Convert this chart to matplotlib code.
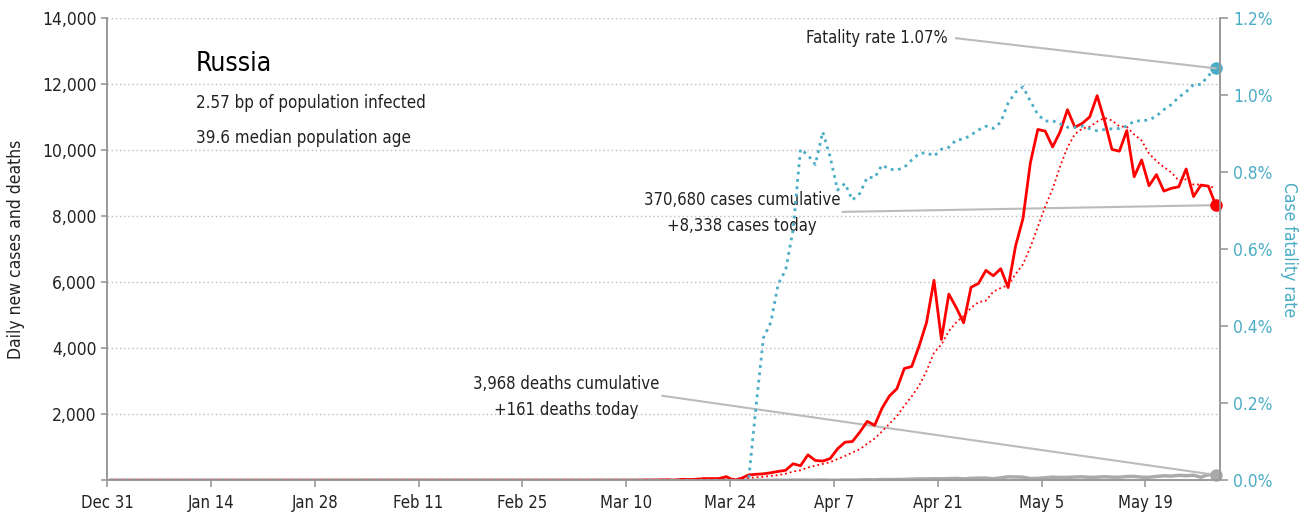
import numpy as np
import pandas as pd
import matplotlib
matplotlib.use('Agg')
import matplotlib.pyplot as plt
from matplotlib.ticker import FuncFormatter

plt.rcParams['font.family'] = ['DejaVu Sans']
plt.rcParams['font.stretch'] = 'condensed'

# --- data (ECDC style daily series, Dec 31 2019 .. May 28 2020 = 150 days) ---
n_days = 150

# daily new cases from Mar 1 (day 61) to May 28 (day 149)
cases_mar_may = [
    0, 0, 1, 0, 0, 0, 1, 2, 0, 3, 3, 7, 6, 11, 14, 4, 30, 21, 33, 52, 54, 53,
    110, 0, 57, 163, 182, 196, 228, 270, 302,                      # Mar
    501, 440, 771, 601, 582, 658, 954, 1154, 1175, 1459, 1786, 1667, 2186,
    2558, 2774, 3388, 3448, 4070, 4785, 6060, 4268, 5642, 5236, 4774, 5849,
    5966, 6361, 6198, 6411, 5841,                                  # Apr
    7099, 7933, 9623, 10633, 10581, 10102, 10559, 11231, 10699, 10817, 11012,
    11656, 10899, 10028, 9974, 10598, 9200, 9709, 8926, 9263, 8764, 8849,
    8894, 9434, 8599, 8946, 8915, 8338,                            # May
]

# daily deaths from Mar 26 (day 86) to May 28
deaths_late = [
    0, 1, 1, 0, 5, 0, 8, 7, 6, 4, 9, 2, 2, 11, 5, 13, 18, 12, 24, 18, 22, 28,
    34, 41, 40, 48, 44, 51, 57, 42, 60, 66, 66, 47, 73, 105, 101, 96, 53, 58,
    76, 95, 86, 88, 98, 104, 88, 94, 107, 96, 93, 113, 119, 94, 91, 115, 135,
    127, 150, 139, 153, 92, 174, 161,
]

# case fatality rate in %, from Mar 26 (day 86) to May 28
cfr_late = [
    0.0, 0.19, 0.37, 0.41, 0.51, 0.546, 0.65, 0.86, 0.845, 0.82, 0.905, 0.84,
    0.754, 0.771, 0.728, 0.745, 0.787, 0.786, 0.819, 0.808, 0.806, 0.813,
    0.832, 0.849, 0.851, 0.842, 0.86, 0.865, 0.884, 0.886, 0.897, 0.91, 0.92,
    0.914, 0.93, 0.98, 1.008, 1.022, 0.985, 0.95, 0.933, 0.934, 0.926, 0.917,
    0.917, 0.92, 0.913, 0.908, 0.911, 0.913, 0.914, 0.92, 0.933, 0.934, 0.936,
    0.946, 0.963, 0.976, 0.995, 1.009, 1.028, 1.028, 1.051, 1.07,
]

tick_days = [0, 14, 28, 42, 56, 70, 84, 98, 112, 126, 140]
tick_labels = ['Dec 31', 'Jan 14', 'Jan 28', 'Feb 11', 'Feb 25', 'Mar 10',
               'Mar 24', 'Apr 7', 'Apr 21', 'May 5', 'May 19']

cases = np.zeros(n_days)
cases[31] = 2
cases[61:] = cases_mar_may
deaths = np.zeros(n_days)
deaths[86:] = deaths_late
cfr = np.zeros(n_days)
cfr[86:] = cfr_late
cases_avg = pd.Series(cases).rolling(7, min_periods=1).mean().values

x = np.arange(n_days) + 0.5

RED = '#ff0000'
BLUE = '#4bacc6'
GREY = '#aaaaaa'
AXIS = '#999999'
TEXT = '#222222'

fig = plt.figure(figsize=(13.12, 5.22), dpi=100)
ax = fig.add_axes([0.0816, 0.0799, 0.8479, 0.885])
ax2 = ax.twinx()

ax.plot(x, deaths, color=GREY, lw=2.5, zorder=3)
ax.plot(x, cases_avg, color=RED, lw=1.3, linestyle=':', zorder=4)
ax.plot(x, cases, color=RED, lw=2, zorder=5)
ax2.plot(x, cfr, color=BLUE, lw=2, linestyle=':')

ax.plot(x[-1], cases[-1], 'o', color=RED, ms=8, clip_on=False, zorder=6)
ax.plot(x[-1], deaths[-1], 'o', color=GREY, ms=8, clip_on=False, zorder=6)
ax2.plot(x[-1], cfr[-1], 'o', color=BLUE, ms=8, clip_on=False)

ax.set_xlim(0, n_days)
ax.set_ylim(0, 14000)
ax2.set_ylim(0, 1.2)

ax.set_xticks(tick_days)
ax.set_xticklabels(tick_labels)
ax.set_yticks(np.arange(0, 14001, 2000))
ax.yaxis.set_major_formatter(FuncFormatter(lambda v, p: '' if v == 0 else f'{v:,.0f}'))
ax2.set_yticks(np.arange(0, 1.21, 0.2))
ax2.yaxis.set_major_formatter(FuncFormatter(lambda v, p: f'{v:.1f}%'))

ax.yaxis.grid(True, linestyle=(0, (1, 2)), color='#bbbbbb', lw=1)
ax.set_axisbelow(True)

for a in (ax, ax2):
    a.spines['top'].set_visible(False)
    for s in ('left', 'right', 'bottom'):
        a.spines[s].set_color(AXIS)
        a.spines[s].set_linewidth(1.2)

ax.tick_params(axis='x', length=5, width=1.2, color=AXIS, labelsize=12,
               labelcolor=TEXT, pad=5)
ax.tick_params(axis='y', length=4, width=1.2, color=AXIS, labelsize=12.5,
               labelcolor=TEXT)
ax2.tick_params(axis='y', length=6, width=1.2, color=AXIS, labelsize=12.5,
                labelcolor=BLUE, pad=4)

ax.set_ylabel('Daily new cases and deaths', fontsize=12.5, color=TEXT, labelpad=12)
ax2.set_ylabel('Case fatality rate', fontsize=12.5, color=BLUE, rotation=270,
               labelpad=18)

# country block
ax.text(0.080, 0.901, 'Russia', transform=ax.transAxes, fontsize=19,
        color='black', va='center', ha='left')
ax.text(0.080, 0.817, '2.57 bp of population infected', transform=ax.transAxes,
        fontsize=12.2, color=TEXT, va='center', ha='left')
ax.text(0.080, 0.741, '39.6 median population age', transform=ax.transAxes,
        fontsize=12.2, color=TEXT, va='center', ha='left')

# call-outs
line_kw = dict(arrowstyle='-', color='#bbbbbb', lw=1.5, shrinkA=0, shrinkB=0)

ax2.text(0.756, 0.957, f'Fatality rate {cfr[-1]:.2f}%', transform=ax.transAxes,
         fontsize=12, color=TEXT, va='center', ha='right')
ax2.annotate('', xy=(x[-1], cfr[-1]), xycoords='data',
             xytext=(0.763, 0.957), textcoords='axes fraction', arrowprops=line_kw)

ax.text(0.571, 0.579, '370,680 cases cumulative\n+8,338 cases today',
        transform=ax.transAxes, fontsize=12, color=TEXT, va='center',
        ha='center', linespacing=1.55)
ax.annotate('', xy=(x[-1], cases[-1]), xycoords='data',
            xytext=(0.661, 0.581), textcoords='axes fraction', arrowprops=line_kw)

ax.text(0.413, 0.181, '3,968 deaths cumulative\n+161 deaths today',
        transform=ax.transAxes, fontsize=12, color=TEXT, va='center',
        ha='center', linespacing=1.55)
ax.annotate('', xy=(x[-1], deaths[-1]), xycoords='data',
            xytext=(0.499, 0.183), textcoords='axes fraction', arrowprops=line_kw)

fig.savefig('out.png', dpi=100)
